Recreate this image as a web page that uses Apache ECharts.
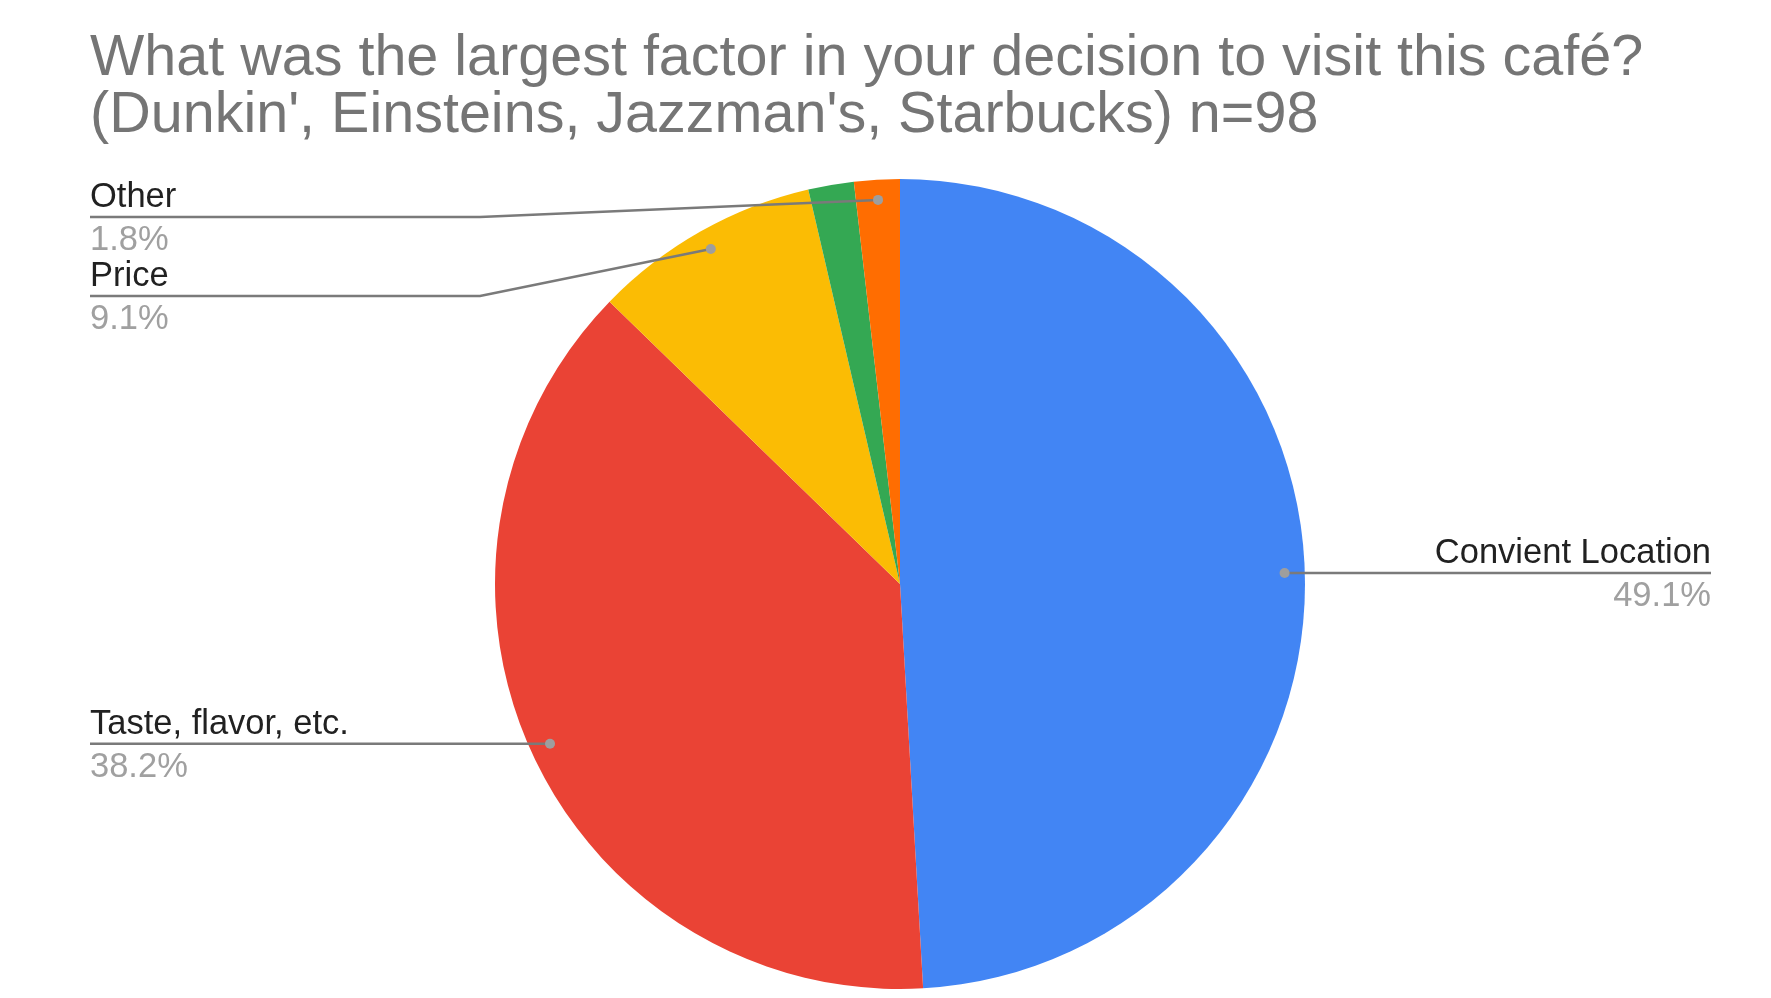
<!DOCTYPE html>
<html>
<head>
<meta charset="utf-8">
<title>Café visit factors</title>
<script src="https://cdn.jsdelivr.net/npm/echarts@6/dist/echarts.min.js"></script>
<style>
  html, body { margin: 0; padding: 0; background: #ffffff; }
  #chart { width: 1771px; height: 998px; }
</style>
</head>
<body>
<div id="chart"></div>
<script>
// Survey responses (counts); percentages are derived by the pie series.
const categories = ['Convient Location', 'Taste, flavor, etc.', 'Price', 'Unspecified', 'Other'];
const counts = [27, 21, 5, 1, 1];
const sliceColors = ['#4285F4', '#EA4335', '#FBBC04', '#34A853', '#FF6D01'];
const titleLines = [
  'What was the largest factor in your decision to visit this café?',
  "(Dunkin', Einsteins, Jazzman's, Starbucks) n=98"
];

// Pie geometry
const CX = 900, CY = 584, R = 405;
const DOT_R = R * 0.95;
const FONT = "'Liberation Sans', Arial, Helvetica, sans-serif";

// Where each slice's callout sits: side of the chart, optional fixed row and elbow.
const calloutLayout = [
  { side: 'right' },
  { side: 'left' },
  { side: 'left', rowY: 296, elbowX: 480 },
  null,
  { side: 'left', rowY: 217, elbowX: 480 }
];
const LEFT_X = 90, RIGHT_X = 1711;

const total = counts.reduce((a, b) => a + b, 0);
// Anchor point inside a slice, on its mid-angle (clockwise from 12 o'clock).
function anchorOf(i) {
  let cum = 0;
  for (let k = 0; k < i; k++) cum += counts[k];
  const a = ((cum + counts[i] / 2) / total) * 2 * Math.PI;
  return [CX + DOT_R * Math.sin(a), CY - DOT_R * Math.cos(a)];
}
function calloutRow(i) {
  const c = calloutLayout[i];
  return c.rowY != null ? c.rowY : anchorOf(i)[1];
}
function calloutPath(i) {
  const c = calloutLayout[i];
  const d = anchorOf(i);
  const y = calloutRow(i);
  const x = c.side === 'right' ? RIGHT_X : LEFT_X;
  return c.elbowX != null ? [d, [c.elbowX, y], [x, y]] : [d, [x, y]];
}

const pieData = categories.map((name, i) => {
  const item = { name: name, value: counts[i], itemStyle: { color: sliceColors[i] } };
  if (!calloutLayout[i]) item.label = { show: false };
  return item;
});

// Leader lines and anchor dots drawn on top of the slices.
const calloutIdx = categories.map((_, i) => i).filter(i => calloutLayout[i]);
const leaders = calloutIdx.map(i => ({
  type: 'polyline',
  shape: { points: calloutPath(i) },
  style: { stroke: '#7a7a7a', lineWidth: 2.5, fill: null },
  z: 99
}));
const dots = calloutIdx.map(i => {
  const p = anchorOf(i);
  return {
    type: 'circle',
    shape: { cx: p[0], cy: p[1], r: 5 },
    style: { fill: '#9e9e9e' },
    z: 100
  };
});

const chart = echarts.init(document.getElementById('chart'), null, { renderer: 'canvas' });
chart.setOption({
  backgroundColor: '#ffffff',
  animation: false,
  title: {
    text: titleLines.join('\n'),
    left: 90,
    top: 31,
    padding: 0,
    textStyle: {
      fontFamily: FONT,
      fontSize: 57.5,
      lineHeight: 57,
      fontWeight: 'normal',
      color: '#757575'
    }
  },
  graphic: leaders.concat(dots),
  series: [{
    type: 'pie',
    center: [CX, CY],
    radius: R,
    startAngle: 90,
    clockwise: true,
    percentPrecision: 1,
    data: pieData,
    emphasis: { disabled: true },
    itemStyle: { borderWidth: 0 },
    label: {
      show: true,
      position: 'outside',
      fontFamily: FONT,
      formatter: '{n|{b}}\n{v|{d}%}',
      rich: {
        n: { fontFamily: FONT, fontSize: 34.5, lineHeight: 43, color: '#212121' },
        v: { fontFamily: FONT, fontSize: 34.5, lineHeight: 43, color: '#a0a0a0' }
      }
    },
    labelLine: { show: false },
    labelLayout: function (params) {
      const i = params.dataIndex;
      const c = calloutLayout[i];
      if (!c) return {};
      return {
        x: c.side === 'right' ? RIGHT_X : LEFT_X,
        y: calloutRow(i) + 2,
        align: c.side === 'right' ? 'right' : 'left',
        verticalAlign: 'middle'
      };
    }
  }]
});
</script>
</body>
</html>
